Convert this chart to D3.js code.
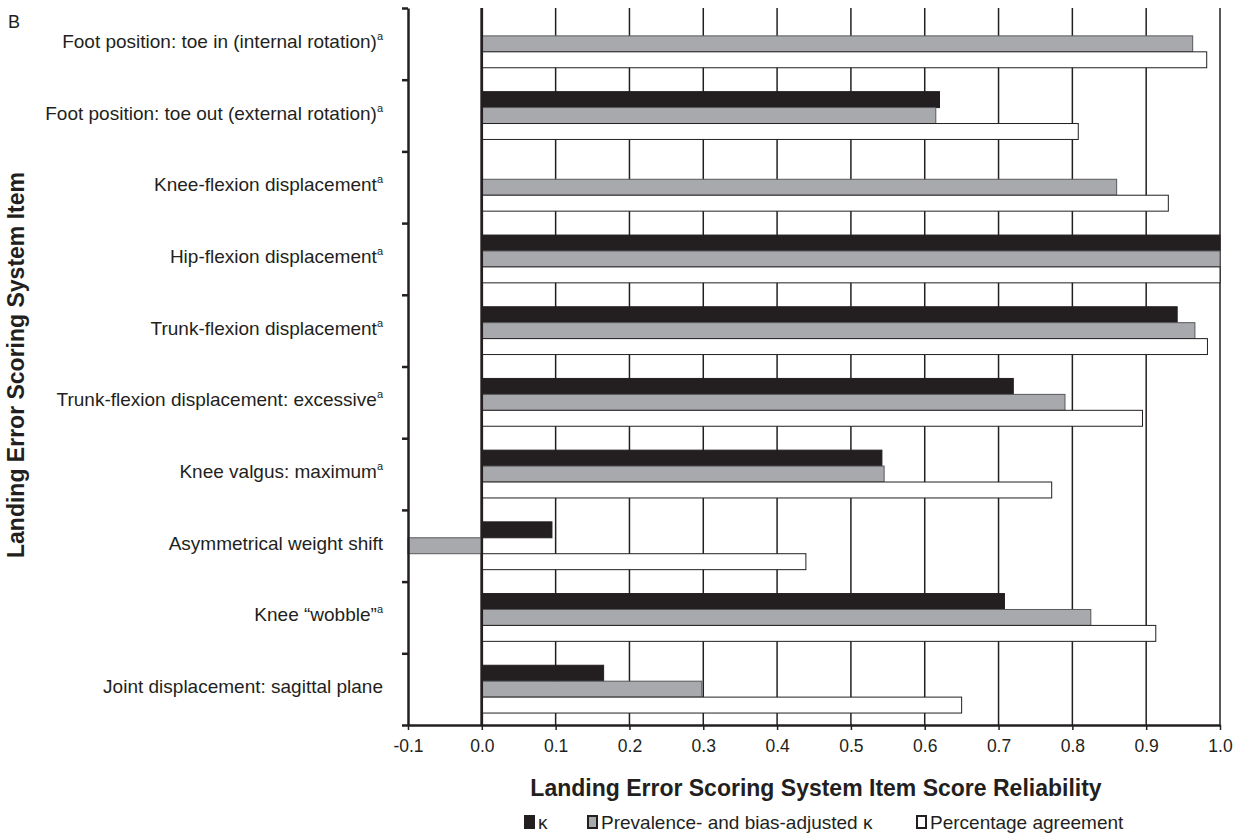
<!DOCTYPE html>
<html>
<head>
<meta charset="utf-8">
<script src="https://cdn.jsdelivr.net/npm/d3@7"></script>
<style>
  body { margin: 0; background: #fff; }
  svg text { font-family: "Liberation Sans", Arial, sans-serif; fill: #231f20; }
</style>
</head>
<body>
<svg id="chart" width="1245" height="834"></svg>
<script>
'use strict'

const items = [
    'Foot position: toe in (internal rotation)',
    'Foot position: toe out (external rotation)',
    'Knee-flexion displacement',
    'Hip-flexion displacement',
    'Trunk-flexion displacement',
    'Trunk-flexion displacement: excessive',
    'Knee valgus: maximum',
    'Asymmetrical weight shift',
    'Knee \u201cwobble\u201d',
    'Joint displacement: sagittal plane'
]
const footnoted = [true, true, true, true, true, true, true, false, true, false]

const kappa = [null, 0.62, null, 1.0, 0.942, 0.72, 0.542, 0.095, 0.708, 0.165]
const pabak = [0.963, 0.615, 0.86, 1.0, 0.966, 0.79, 0.545, -0.1, 0.825, 0.298]
const agreement = [0.982, 0.808, 0.93, 1.0, 0.983, 0.895, 0.772, 0.439, 0.913, 0.65]

const xTicks = [-0.1, 0.0, 0.1, 0.2, 0.3, 0.4, 0.5, 0.6, 0.7, 0.8, 0.9, 1.0]

const series = [
    { key: 'kappa', label: '\u03ba', values: kappa, fill: '#231f20', stroke: '#231f20' },
    { key: 'pabak', label: 'Prevalence- and bias-adjusted \u03ba', values: pabak, fill: '#a7a9ac', stroke: '#58595b' },
    { key: 'agree', label: 'Percentage agreement', values: agreement, fill: '#ffffff', stroke: '#231f20' }
]

const margins = { top: 8, left: 408, right: 25, bottom: 109 }
const width = 1245, height = 834
const plotBottom = height - margins.bottom

const svg = d3.select('#chart')

const x = d3.scaleLinear()
    .domain([-0.1, 1.0])
    .range([margins.left, width - margins.right])

const y = d3.scaleBand()
    .domain(items)
    .range([margins.top, plotBottom])

const ySub = d3.scaleBand()
    .domain(series.map(s => s.key))
    .range([y.bandwidth() / 6, y.bandwidth() * 5 / 6])

// index scale for ticks between categories
const yIdx = d3.scaleLinear().domain([0, items.length]).range([margins.top, plotBottom])

// vertical gridlines
svg.append('g')
    .selectAll('line')
    .data(xTicks.filter(t => t >= 0))
    .enter().append('line')
    .attr('x1', d => x(d)).attr('x2', d => x(d))
    .attr('y1', margins.top).attr('y2', plotBottom)
    .attr('stroke', '#231f20')
    .attr('stroke-width', d => d === 0 ? 2.5 : 1.5)

// bars
series.forEach(s => {
    svg.append('g')
        .selectAll('rect')
        .data(s.values.map((v, i) => ({ v, item: items[i] })).filter(d => d.v !== null))
        .enter().append('rect')
        .attr('x', d => x(Math.min(0, d.v)))
        .attr('width', d => Math.abs(x(d.v) - x(0)))
        .attr('y', d => y(d.item) + ySub(s.key))
        .attr('height', ySub.bandwidth())
        .attr('fill', s.fill)
        .attr('stroke', s.stroke)
        .attr('stroke-width', 1)
})

// redraw zero line over bar edges
svg.append('line')
    .attr('x1', x(0)).attr('x2', x(0))
    .attr('y1', margins.top).attr('y2', plotBottom)
    .attr('stroke', '#231f20').attr('stroke-width', 2.5)

// x axis
const fmt = d3.format('.1f')
const xAxis = svg.append('g')
    .attr('transform', 'translate(0,' + plotBottom + ')')
    .call(d3.axisBottom(x).tickValues(xTicks).tickFormat(d => fmt(d).replace('\u2212', '-')).tickSize(5).tickSizeOuter(0))
xAxis.select('.domain').attr('stroke', '#231f20').attr('stroke-width', 2.5)
xAxis.selectAll('.tick line').attr('stroke', '#231f20').attr('stroke-width', 1.5)
xAxis.selectAll('.tick text')
    .attr('y', 15)
    .style('font-size', '17.5px')
    .style('font-family', '"Liberation Sans", Arial, sans-serif')
    .attr('fill', '#231f20')

// y axis with ticks between categories
const yAxis = svg.append('g')
    .attr('transform', 'translate(' + margins.left + ',0)')
    .call(d3.axisLeft(yIdx).tickValues(d3.range(items.length + 1)).tickFormat('').tickSize(6).tickSizeOuter(0))
yAxis.select('.domain').attr('stroke', '#231f20').attr('stroke-width', 2.5)
yAxis.selectAll('.tick line').attr('stroke', '#231f20').attr('stroke-width', 2.5)

// category labels
const labels = svg.append('g')
    .selectAll('text')
    .data(items)
    .enter().append('text')
    .attr('x', 383)
    .attr('y', d => y(d) + y.bandwidth() / 2 - 1)
    .attr('text-anchor', 'end')
    .attr('dominant-baseline', 'middle')
    .style('font-size', '19px')
labels.append('tspan').text(d => d)
labels.filter((d, i) => footnoted[i])
    .append('tspan')
    .attr('dy', -6)
    .style('font-size', '11px')
    .text('a')

// axis titles
svg.append('text')
    .attr('x', 816)
    .attr('y', 796)
    .attr('text-anchor', 'middle')
    .style('font-size', '23px')
    .style('font-weight', 'bold')
    .text('Landing Error Scoring System Item Score Reliability')

svg.append('text')
    .attr('transform', 'translate(24,365) rotate(-90)')
    .attr('text-anchor', 'middle')
    .style('font-size', '23px')
    .style('font-weight', 'bold')
    .text('Landing Error Scoring System Item')

svg.append('text')
    .attr('x', 8).attr('y', 28)
    .style('font-size', '18px')
    .text('B')

// legend
const legendX = [525, 588, 917]
const legend = svg.append('g')
    .selectAll('g')
    .data(series)
    .enter().append('g')
    .attr('transform', (d, i) => 'translate(' + legendX[i] + ',816)')
legend.append('rect')
    .attr('width', 9).attr('height', 12)
    .attr('fill', d => d.fill)
    .attr('stroke', d => d.key === 'kappa' ? d.stroke : '#231f20')
    .attr('stroke-width', 2)
legend.append('text')
    .attr('x', 13).attr('y', 13)
    .style('font-size', '19px')
    .text(d => d.label)
</script>
</body>
</html>
